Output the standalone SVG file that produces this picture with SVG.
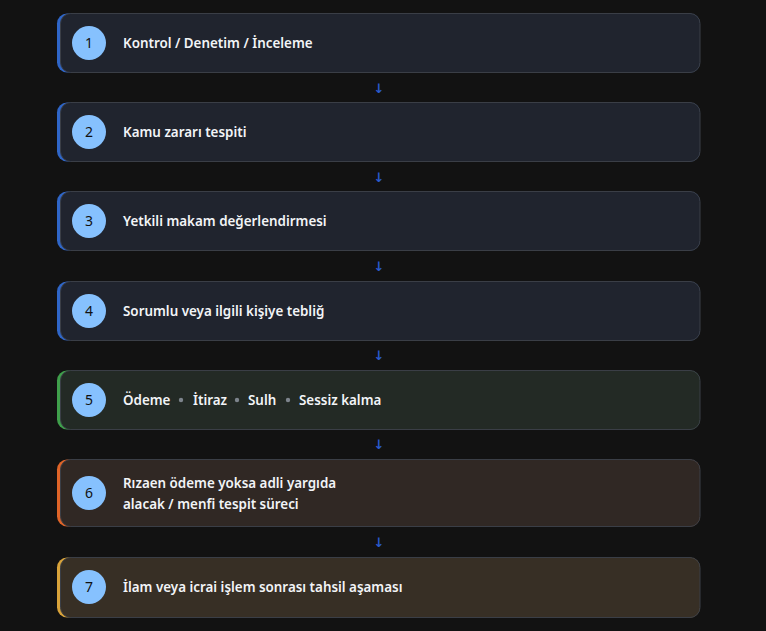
<svg xmlns="http://www.w3.org/2000/svg" width="766" height="631" viewBox="0 0 766 631">
<style>
.bg{fill:#121212}
.card{stroke:#3a3e46;stroke-width:1}
.num{fill:#86c1fe}
.nt{font-family:"Noto Sans","Liberation Sans",sans-serif;font-size:14px;fill:#111;text-anchor:middle}
.t{font-family:"Noto Sans","Liberation Sans",sans-serif;font-size:13.4px;font-weight:600;fill:#f2f4f7}
.dot{fill:#7d848c}
.arr{font-family:"DejaVu Sans","Liberation Sans",sans-serif;font-size:13px;font-weight:bold;fill:#2a5bcc;text-anchor:middle}
</style>
<rect class="bg" width="766" height="631"/>
<g id="connectors">
<text class="arr" x="379" y="93">↓</text>
<text class="arr" x="379" y="182">↓</text>
<text class="arr" x="379" y="271">↓</text>
<text class="arr" x="379" y="360">↓</text>
<text class="arr" x="379" y="449">↓</text>
<text class="arr" x="379" y="547">↓</text>
</g>
<g id="node1">
<rect x="57" y="13.5" width="643" height="59" rx="10" fill="#2f66c8"/>
<rect class="card" x="60.5" y="13.5" width="639.5" height="59" rx="10" fill="#20242e"/>
<circle class="num" cx="89" cy="43" r="17"/>
<text class="nt" x="89" y="48">1</text>
<text class="t" x="123" y="48">Kontrol / Denetim / İnceleme</text>
</g>
<g id="node2">
<rect x="57" y="102.5" width="643" height="59" rx="10" fill="#2f66c8"/>
<rect class="card" x="60.5" y="102.5" width="639.5" height="59" rx="10" fill="#20242e"/>
<circle class="num" cx="89" cy="132" r="17"/>
<text class="nt" x="89" y="137">2</text>
<text class="t" x="123" y="137">Kamu zararı tespiti</text>
</g>
<g id="node3">
<rect x="57" y="191.5" width="643" height="59" rx="10" fill="#2f66c8"/>
<rect class="card" x="60.5" y="191.5" width="639.5" height="59" rx="10" fill="#20242e"/>
<circle class="num" cx="89" cy="221" r="17"/>
<text class="nt" x="89" y="226">3</text>
<text class="t" x="123" y="226">Yetkili makam değerlendirmesi</text>
</g>
<g id="node4">
<rect x="57" y="281.5" width="643" height="59" rx="10" fill="#2f66c8"/>
<rect class="card" x="60.5" y="281.5" width="639.5" height="59" rx="10" fill="#20242e"/>
<circle class="num" cx="89" cy="311" r="17"/>
<text class="nt" x="89" y="316">4</text>
<text class="t" x="123" y="316">Sorumlu veya ilgili kişiye tebliğ</text>
</g>
<g id="node5">
<rect x="57" y="370.5" width="643" height="59" rx="10" fill="#3f9f4b"/>
<rect class="card" x="60.5" y="370.5" width="639.5" height="59" rx="10" fill="#232a25"/>
<circle class="num" cx="89" cy="400" r="17"/>
<text class="nt" x="89" y="405">5</text>
<text class="t" x="123" y="405">Ödeme</text>
<circle class="dot" cx="181" cy="400" r="2.2"/>
<text class="t" x="193" y="405">İtiraz</text>
<circle class="dot" cx="237" cy="400" r="2.2"/>
<text class="t" x="248" y="405">Sulh</text>
<circle class="dot" cx="288" cy="400" r="2.2"/>
<text class="t" x="299" y="405">Sessiz kalma</text>
</g>
<g id="node6">
<rect x="57" y="459.5" width="643" height="67" rx="10" fill="#df6428"/>
<rect class="card" x="60.5" y="459.5" width="639.5" height="67" rx="10" fill="#302824"/>
<circle class="num" cx="89" cy="493" r="17"/>
<text class="nt" x="89" y="498">6</text>
<text class="t" x="123" y="488">Rızaen ödeme yoksa adli yargıda</text>
<text class="t" x="123" y="509">alacak / menfi tespit süreci</text>
</g>
<g id="node7">
<rect x="57" y="557.5" width="643" height="60" rx="10" fill="#d9a33a"/>
<rect class="card" x="60.5" y="557.5" width="639.5" height="60" rx="10" fill="#372f25"/>
<circle class="num" cx="89" cy="587" r="17"/>
<text class="nt" x="89" y="592">7</text>
<text class="t" x="123" y="592">İlam veya icrai işlem sonrası tahsil aşaması</text>
</g>
</svg>
